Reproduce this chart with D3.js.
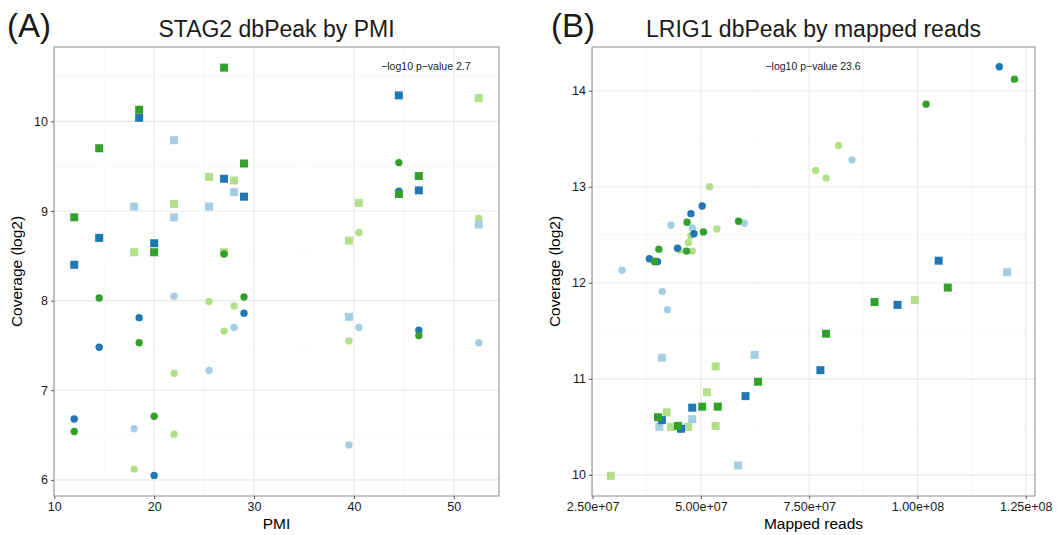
<!DOCTYPE html>
<html>
<head>
<meta charset="utf-8">
<script src="https://cdn.jsdelivr.net/npm/d3@7"></script>
<style>
  body { margin: 0; background: #fff; }
  svg text { font-family: "Liberation Sans", Arial, Helvetica, sans-serif; }
</style>
</head>
<body>
<div id="chart"></div>
<script>
"use strict";

// ---- data ----
// colours: Paired palette, drawn in this order
var groupColors = ['#B2DF8A', '#A6CEE3', '#1F78B4', '#33A02C']; // light green, light blue, dark blue, dark green

// (A) STAG2 dbPeak by PMI : [PMI, coverage log2]
var stagLightGreenCircles = [[18, 6.12], [22, 7.19], [22, 6.51], [25.5, 7.99], [27, 7.66], [28, 7.94], [39.5, 7.55], [40.5, 8.76], [52.5, 8.92]];
var stagLightBlueCircles  = [[18, 6.57], [22, 8.05], [25.5, 7.22], [28, 7.70], [39.5, 6.39], [40.5, 7.70], [52.5, 7.53]];
var stagDarkBlueCircles   = [[12, 6.68], [14.5, 7.48], [18.5, 7.81], [20, 6.05], [29, 7.86], [44.5, 9.22], [46.5, 7.67]];
var stagDarkGreenCircles  = [[12, 6.54], [14.5, 8.03], [18.5, 7.53], [20, 6.71], [27, 8.52], [29, 8.04], [44.5, 9.54], [46.5, 7.61]];
var stagLightGreenSquares = [[18, 8.54], [22, 9.08], [25.5, 9.38], [27, 8.54], [28, 9.34], [39.5, 8.67], [40.5, 9.09], [52.5, 10.26]];
var stagLightBlueSquares  = [[18, 9.05], [22, 9.79], [22, 8.93], [25.5, 9.05], [28, 9.21], [39.5, 7.82], [52.5, 8.85]];
var stagDarkBlueSquares   = [[12, 8.40], [14.5, 8.70], [18.5, 10.04], [20, 8.64], [27, 9.36], [29, 9.16], [44.5, 10.29], [46.5, 9.23]];
var stagDarkGreenSquares  = [[12, 8.93], [14.5, 9.70], [18.5, 10.13], [20, 8.54], [27, 10.60], [29, 9.53], [44.5, 9.19], [46.5, 9.39]];

// (B) LRIG1 dbPeak by mapped reads : [reads, coverage log2]
var lrigLightGreenCircles = [[3.95e7, 12.23], [4.52e7, 12.34], [4.71e7, 12.42], [4.77e7, 12.49], [4.80e7, 12.33], [5.20e7, 13.00], [5.37e7, 12.56], [7.65e7, 13.17], [7.89e7, 13.09], [8.18e7, 13.43]];
var lrigLightBlueCircles  = [[3.18e7, 12.13], [4.11e7, 11.91], [4.23e7, 11.72], [4.31e7, 12.60], [4.80e7, 12.57], [6.00e7, 12.62], [8.49e7, 13.28]];
var lrigDarkBlueCircles   = [[3.81e7, 12.25], [4.00e7, 12.22], [4.46e7, 12.36], [4.77e7, 12.72], [4.84e7, 12.51], [5.03e7, 12.80], [11.89e7, 14.25]];
var lrigDarkGreenCircles  = [[3.93e7, 12.22], [4.03e7, 12.35], [4.67e7, 12.33], [4.68e7, 12.63], [5.06e7, 12.53], [5.87e7, 12.64], [10.20e7, 13.86], [12.24e7, 14.12]];
var lrigLightGreenSquares = [[2.92e7, 9.99], [4.21e7, 10.65], [4.31e7, 10.50], [4.70e7, 10.50], [5.14e7, 10.86], [5.34e7, 10.51], [5.34e7, 11.13], [9.94e7, 11.82]];
var lrigLightBlueSquares  = [[4.04e7, 10.50], [4.10e7, 11.22], [4.80e7, 10.58], [5.86e7, 10.10], [6.24e7, 11.25], [12.07e7, 12.11]];
var lrigDarkBlueSquares   = [[4.10e7, 10.57], [4.54e7, 10.48], [4.80e7, 10.70], [6.03e7, 10.82], [7.76e7, 11.09], [9.54e7, 11.77], [10.49e7, 12.23]];
var lrigDarkGreenSquares  = [[4.01e7, 10.60], [4.47e7, 10.51], [5.03e7, 10.71], [5.39e7, 10.71], [6.32e7, 10.97], [7.89e7, 11.47], [9.01e7, 11.80], [10.70e7, 11.95]];

// ticks
var stagXTicks = [10, 20, 30, 40, 50];
var stagYTicks = [6, 7, 8, 9, 10];
var lrigXTicks = [2.5e7, 5e7, 7.5e7, 1e8, 1.25e8];
var lrigXTickLabels = ['2.50e+07', '5.00e+07', '7.50e+07', '1.00e+08', '1.25e+08'];
var lrigYTicks = [10, 11, 12, 13, 14];

var svg = d3.select('#chart').append('svg')
  .attr('width', 1058)
  .attr('height', 535);

function drawPanel (p) {
  var x = d3.scaleLinear().domain(p.xDomain).range([p.left, p.right]);
  var y = d3.scaleLinear().domain(p.yDomain).range([p.bottom, p.top]);
  var g = svg.append('g');

  // minor grid (half way between major ticks)
  var xStep = p.xTicks[1] - p.xTicks[0], yStep = p.yTicks[1] - p.yTicks[0];
  var xMinor = [p.xTicks[0] - xStep / 2].concat(p.xTicks.map(d => d + xStep / 2))
    .filter(d => d > p.xDomain[0] && d < p.xDomain[1]);
  var yMinor = [p.yTicks[0] - yStep / 2].concat(p.yTicks.map(d => d + yStep / 2))
    .filter(d => d > p.yDomain[0] && d < p.yDomain[1]);

  g.append('g').selectAll('line').data(xMinor).enter().append('line')
    .attr('x1', d => x(d)).attr('x2', d => x(d))
    .attr('y1', p.top).attr('y2', p.bottom)
    .attr('stroke', '#f4f4f4').attr('stroke-width', 0.6);
  g.append('g').selectAll('line').data(yMinor).enter().append('line')
    .attr('y1', d => y(d)).attr('y2', d => y(d))
    .attr('x1', p.left).attr('x2', p.right)
    .attr('stroke', '#f4f4f4').attr('stroke-width', 0.6);

  // major grid
  g.append('g').selectAll('line').data(p.xTicks).enter().append('line')
    .attr('x1', d => x(d)).attr('x2', d => x(d))
    .attr('y1', p.top).attr('y2', p.bottom)
    .attr('stroke', '#e8e8e8').attr('stroke-width', 1.1);
  g.append('g').selectAll('line').data(p.yTicks).enter().append('line')
    .attr('y1', d => y(d)).attr('y2', d => y(d))
    .attr('x1', p.left).attr('x2', p.right)
    .attr('stroke', '#e8e8e8').attr('stroke-width', 1.1);

  // points, one group per colour; circles and squares share the colour order
  p.series.forEach(function (s) {
    var sg = g.append('g');
    sg.selectAll('circle').data(s.circles).enter().append('circle')
      .attr('cx', d => x(d[0])).attr('cy', d => y(d[1]))
      .attr('r', 3.7)
      .attr('fill', s.color);
    sg.selectAll('rect').data(s.squares).enter().append('rect')
      .attr('x', d => x(d[0]) - 4).attr('y', d => y(d[1]) - 4)
      .attr('width', 8).attr('height', 8)
      .attr('fill', s.color);
  });

  // panel border
  g.append('rect')
    .attr('x', p.left).attr('y', p.top)
    .attr('width', p.right - p.left).attr('height', p.bottom - p.top)
    .attr('fill', 'none').attr('stroke', '#8c8c8c').attr('stroke-width', 1);

  // axes
  var xAxis = g.append('g')
    .attr('transform', 'translate(0,' + p.bottom + ')')
    .call(d3.axisBottom(x).tickValues(p.xTicks).tickSize(3).tickPadding(3)
      .tickFormat((d, i) => p.xTickLabels ? p.xTickLabels[i] : d3.format('d')(d)));
  var yAxis = g.append('g')
    .attr('transform', 'translate(' + p.left + ',0)')
    .call(d3.axisLeft(y).tickValues(p.yTicks).tickSize(3).tickPadding(3)
      .tickFormat(d3.format('d')));
  [xAxis, yAxis].forEach(function (a) {
    a.select('.domain').remove();
    a.selectAll('line').attr('stroke', '#555');
    a.selectAll('text').attr('fill', '#1a1a1a').style('font-size', '12.5px')
      .style('font-family', '"Liberation Sans", Arial, sans-serif');
  });

  // axis titles
  g.append('text')
    .attr('x', (p.left + p.right) / 2).attr('y', 529)
    .attr('text-anchor', 'middle')
    .style('font-size', '15.5px').attr('fill', '#000')
    .text(p.xTitle);
  g.append('text')
    .attr('transform', 'translate(' + (p.left - 32) + ',' + ((p.top + p.bottom) / 2) + ') rotate(-90)')
    .attr('text-anchor', 'middle')
    .style('font-size', '15.5px').attr('fill', '#000')
    .text('Coverage (log2)');

  // title and panel letter
  g.append('text')
    .attr('x', (p.left + p.right) / 2).attr('y', 37)
    .attr('text-anchor', 'middle')
    .style('font-size', '23px').attr('fill', '#1a1a1a')
    .text(p.title);
  g.append('text')
    .attr('x', p.letterX).attr('y', 37)
    .style('font-size', '33px').attr('fill', '#1a1a1a')
    .text(p.letter);

  // p-value note
  g.append('text')
    .attr('x', x(p.noteX)).attr('y', 70)
    .attr('text-anchor', 'middle')
    .style('font-size', '10.5px').attr('fill', '#1a1a1a')
    .text(p.note);
}

drawPanel({
  left: 54, right: 499, top: 47, bottom: 496,
  xDomain: [9.975, 54.525], yDomain: [5.82, 10.83],
  xTicks: stagXTicks, yTicks: stagYTicks,
  xTitle: 'PMI', title: 'STAG2 dbPeak by PMI', letter: '(A)', letterX: 7,
  note: '\u2212log10 p\u2212value 2.7', noteX: 47.2,
  series: [
    {color: groupColors[0], circles: stagLightGreenCircles, squares: stagLightGreenSquares},
    {color: groupColors[1], circles: stagLightBlueCircles,  squares: stagLightBlueSquares},
    {color: groupColors[2], circles: stagDarkBlueCircles,   squares: stagDarkBlueSquares},
    {color: groupColors[3], circles: stagDarkGreenCircles,  squares: stagDarkGreenSquares}
  ]
});

drawPanel({
  left: 592, right: 1035, top: 47, bottom: 496,
  xDomain: [2.486e7, 1.2714e8], yDomain: [9.78, 14.455],
  xTicks: lrigXTicks, xTickLabels: lrigXTickLabels, yTicks: lrigYTicks,
  xTitle: 'Mapped reads', title: 'LRIG1 dbPeak by mapped reads', letter: '(B)', letterX: 551,
  note: '\u2212log10 p\u2212value 23.6', noteX: 7.59e7,
  series: [
    {color: groupColors[0], circles: lrigLightGreenCircles, squares: lrigLightGreenSquares},
    {color: groupColors[1], circles: lrigLightBlueCircles,  squares: lrigLightBlueSquares},
    {color: groupColors[2], circles: lrigDarkBlueCircles,   squares: lrigDarkBlueSquares},
    {color: groupColors[3], circles: lrigDarkGreenCircles,  squares: lrigDarkGreenSquares}
  ]
});
</script>
</body>
</html>
